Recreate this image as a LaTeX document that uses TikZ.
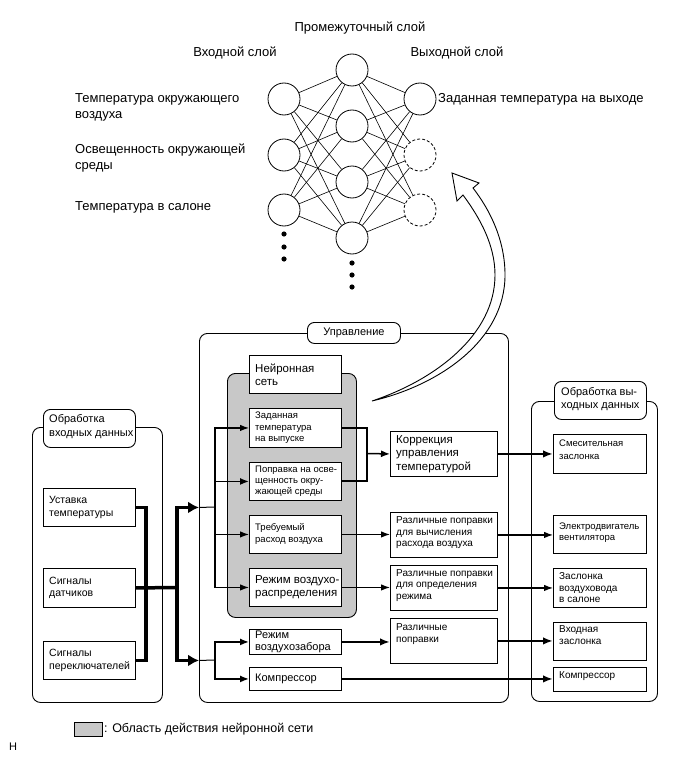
\documentclass[tikz,border=0pt]{standalone}
\usepackage{fontspec}
\setmainfont{Liberation Sans}
\usetikzlibrary{arrows.meta}
\definecolor{nngray}{RGB}{200,200,200}
\newcommand\fsz[2]{\fontsize{#1}{#2}\selectfont}
\newcommand\mkrect[6]{\node[#1, minimum width={(#5-#3)*1pt}, minimum height={(#6-#4)*1pt}, anchor=north west, inner sep=0pt] (#2) at (#3,#4) {};}
\newcommand\mkbox[8]{%
  \node[boxst, minimum width={(#4-#2)*1pt}, minimum height={(#5-#3)*1pt}] (#1) at (#2,#3) {};
  \node[btxt, font={#6}] at ([xshift=6pt,yshift=#7]#1.west) {#8};}
\begin{document}
\begin{tikzpicture}[x=1pt,y=-1pt,
  nn/.style={circle,draw,line width=0.8pt,minimum size=32pt,inner sep=0pt},
  nnd/.style={nn,dash pattern=on 3pt off 2pt},
  link/.style={line width=0.6pt},
  lbl/.style={font=\fsz{13}{16}, inner sep=0pt, align=left},
  boxst/.style={draw,line width=0.9pt,fill=white,inner sep=0pt,anchor=north west,rectangle},
  btxt/.style={anchor=west,align=left,inner sep=0pt},
  panel/.style={draw,line width=0.9pt,rounded corners=8pt},
  tab/.style={draw,fill=white,line width=0.9pt,rounded corners=7pt},
  grayst/.style={draw,fill=nngray,line width=0.9pt,rounded corners=8pt},
  tabtxt/.style={anchor=west,align=left,inner sep=0pt,font=\fsz{11}{13.5}},
  bus/.style={line width=3.5pt},
  busarr/.style={bus,-{Latex[length=11pt,width=12pt]}},
  ln/.style={line width=1pt},
  arr/.style={line width=1.1pt,-{Latex[length=9pt,width=6.5pt]}},
  arrm/.style={line width=1.5pt,-{Latex[length=9pt,width=7pt]}},
  arrt/.style={line width=2pt,-{Latex[length=10pt,width=7.5pt]}}
]
\useasboundingbox (0,0) rectangle (691,757);

% ---------- neural network ----------
\node[lbl] (tmid) at (360,28) {Промежуточный слой};
\node[lbl] (tin) at (235,53) {Входной слой};
\node[lbl] (tout) at (457,53) {Выходной слой};

\node[nn] (i1) at (284,99) {};
\node[nn] (i2) at (284,155) {};
\node[nn] (i3) at (284,210) {};
\node[nn] (m1) at (352,70) {};
\node[nn] (m2) at (352,126) {};
\node[nn] (m3) at (352,182) {};
\node[nn] (m4) at (352,238) {};
\node[nn] (o1) at (420,99) {};
\node[nnd] (o2) at (420,155) {};
\node[nnd] (o3) at (420,210) {};
\foreach \a in {i1,i2,i3}{\foreach \b in {m1,m2,m3,m4}{\draw[link] (\a) -- (\b);}}
\foreach \a in {o1,o2,o3}{\foreach \b in {m1,m2,m3,m4}{\draw[link] (\a) -- (\b);}}
\foreach \y in {234,247,259}{\fill (284,\y) circle (2.6pt);}
\foreach \y in {263,275,287}{\fill (352,\y) circle (2.6pt);}

\node[lbl,anchor=west] (li1) at (75,107) {Температура окружающего\\воздуха};
\node[lbl,anchor=west] (li2) at (75,158) {Освещенность окружающей\\среды};
\node[lbl,anchor=west] (li3) at (75,207) {Температура в салоне};
\node[lbl,anchor=west] (lo1) at (438,99) {Заданная температура на выходе};

% ---------- panels ----------
\mkrect{panel}{ctl}{199}{333}{508}{702}
\mkrect{panel}{inp}{32}{427}{162}{702}
\mkrect{panel}{outp}{531}{401}{657}{701}
\mkrect{tab}{ctltab}{307}{322}{400}{343}
\node[font=\fsz{11}{13},inner sep=0pt] at (ctltab) {Управление};
\mkrect{tab}{inptab}{43}{409}{135}{447}
\node[tabtxt] at ([xshift=6pt,yshift=2pt]inptab.west) {Обработка\\входных данных};
\mkrect{tab}{outptab}{554}{381}{646}{419}
\node[tabtxt] at ([xshift=7pt,yshift=1.5pt]outptab.west) {Обработка вы-\\ходных данных};
\mkrect{grayst}{nnarea}{227}{373}{356}{617}

% ---------- boxes ----------
\mkbox{nnt}{249}{355}{341}{393}{\fsz{11.5}{13}}{0pt}{Нейронная\\сеть}
\mkbox{zad}{249}{408}{341}{447}{\fsz{9.5}{11.5}}{0pt}{Заданная\\температура\\на выпуске}
\mkbox{pop}{249}{462}{341}{500}{\fsz{9.5}{11}}{0pt}{Поправка на осве-\\щенность окру-\\жающей среды}
\mkbox{treb}{249}{515}{341}{553}{\fsz{9.5}{12}}{0pt}{Требуемый\\расход воздуха}
\mkbox{rvr}{249}{568}{341}{606}{\fsz{11.5}{13.5}}{0pt}{Режим воздухо-\\распределения}
\mkbox{rvz}{249}{629}{341}{654}{\fsz{11}{12}}{0pt}{Режим\\воздухозабора}
\mkbox{kmp}{249}{667}{341}{690}{\fsz{11}{12}}{0pt}{Компрессор}
\mkbox{kor}{390}{431}{497}{476}{\fsz{11.5}{13.5}}{0pt}{Коррекция\\управления\\температурой}
\mkbox{rp1}{390}{512}{497}{557}{\fsz{10}{11.5}}{2pt}{Различные поправки\\для вычисления\\расхода воздуха}
\mkbox{rp2}{390}{565}{497}{610}{\fsz{10}{11.5}}{2.5pt}{Различные поправки\\для определения\\режима}
\mkbox{rp3}{390}{618}{497}{663}{\fsz{10}{11.5}}{7pt}{Различные\\поправки}
\mkbox{smz}{553}{434}{646}{473}{\fsz{9.5}{12.5}}{4pt}{Смесительная\\заслонка}
\mkbox{evn}{553}{515}{646}{553}{\fsz{9.5}{11.5}}{2pt}{Электродвигатель\\вентилятора}
\mkbox{zvs}{553}{568}{646}{607}{\fsz{10}{11.5}}{0pt}{Заслонка\\воздуховода\\в салоне}
\mkbox{vhz}{553}{622}{646}{660}{\fsz{10}{12}}{6pt}{Входная\\заслонка}
\mkbox{okmp}{553}{667}{646}{691}{\fsz{10}{12}}{3pt}{Компрессор}
\mkbox{ust}{43}{488}{135}{526}{\fsz{10.5}{12.5}}{0pt}{Уставка\\температуры}
\mkbox{dat}{43}{568}{135}{607}{\fsz{10.5}{12.5}}{0pt}{Сигналы\\датчиков}
\mkbox{pk}{43}{641}{135}{679}{\fsz{10.5}{12.5}}{0pt}{Сигналы\\переключателей}

% ---------- connectors ----------
\coordinate (jl) at (146,587.5);
\coordinate (jr) at (177,587.5);
\draw[bus] (ust.east) -| (jl) |- (pk.east);
\draw[bus] (dat.east) -- (jr);
\draw[busarr] (jr) |- (ctl.west |- ust.east);
\draw[busarr] (jr) |- (ctl.west |- pk.east);

\coordinate (ci1) at (215,507);
\coordinate (ci2) at (215,660);
\draw[ln] (ctl.west |- ust.east) -- (ci1);
\draw[arr] (ci1) |- (zad.west);
\draw[arrm] (ci1) |- (pop.west);
\draw[arr] (ci1) |- (treb.west);
\draw[arr] (ci1) |- (rvr.west);
\draw[ln] (ctl.west |- pk.east) -- (ci2);
\draw[arrm] (ci2) |- (rvz.west);
\draw[arrm] (ci2) |- (kmp.west);

\coordinate (cr) at (367,453.5);
\draw[line width=1.2pt] (zad.east) -| (cr);
\draw[line width=2pt] (pop.east) -| (cr);
\draw[arrm] (cr) -- (kor.west);
\draw[arrt] (kor.east) -- (kor.east -| smz.west);
\draw[arr] (treb.east) -- (treb.east -| rp1.west);
\draw[arr] (rvr.east) -- (rvr.east -| rp2.west);
\draw[arrt] (rvz.east) -- (rvz.east -| rp3.west);
\draw[arrt] (kmp.east) -- (kmp.east -| okmp.west);
\draw[arr] (rp1.east) -- (rp1.east -| evn.west);
\draw[arr] (rp2.east) -- (rp2.east -| zvs.west);
\draw[arrt] (rp3.east) -- (rp3.east -| vhz.west);

% ---------- big hollow arrow ----------
\draw[line width=0.9pt,fill=white,line join=miter]
  (372,401) .. controls (440,385) and (505,340) .. (505,275)
  .. controls (505,240) and (490,210) .. (473,188)
  -- (479,183) -- (452,173) -- (457,201) -- (463,195)
  .. controls (480,218) and (495,245) .. (495,275)
  .. controls (495,335) and (435,380) .. (372,401) -- cycle;

% ---------- legend ----------
\node[draw,fill=nngray,line width=0.9pt,minimum width=28pt,minimum height=14pt,inner sep=0pt] (leg) at (88,729) {};
\node[anchor=west,inner sep=1.5pt,font=\fsz{12.5}{15}] (legt) at (leg.east) {: Область действия нейронной сети};
\node[anchor=west,inner sep=0pt,font=\fsz{11}{13}] (hh) at (9,747) {H};
\end{tikzpicture}
\end{document}
